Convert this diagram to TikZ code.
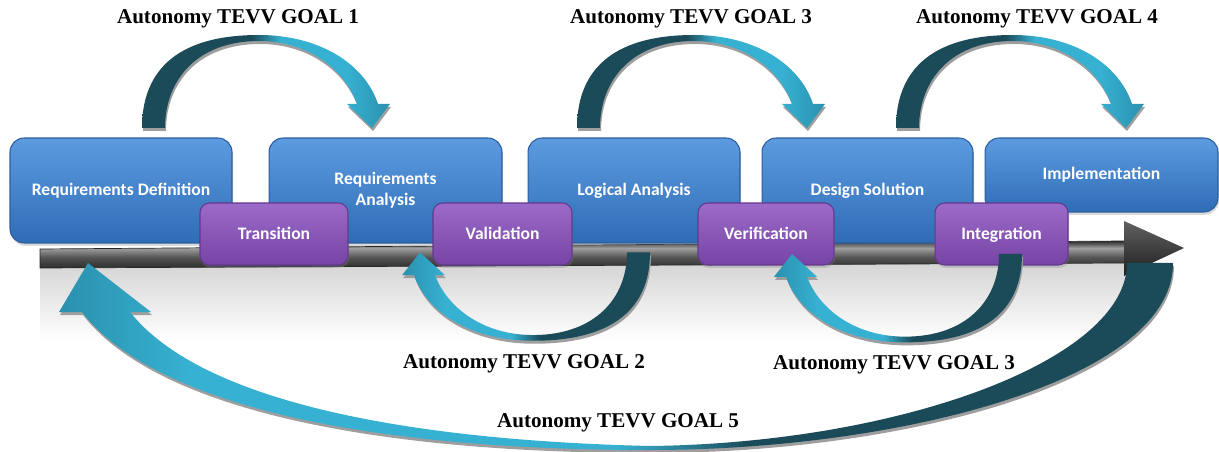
\documentclass[tikz,border=0pt]{standalone}
\usepackage{fontspec}
\setmainfont{Liberation Serif}
\newfontfamily\boxfont{Carlito}
\usetikzlibrary{shadows}
\definecolor{tdk}{HTML}{1B4A58}
\definecolor{tlt}{HTML}{37B1D2}
\definecolor{thd}{HTML}{2A91AE}
\definecolor{bluetop}{HTML}{5C9BE0}
\definecolor{bluebot}{HTML}{2F6CB6}
\definecolor{blueedge}{HTML}{2A5E9E}
\definecolor{purtop}{HTML}{9C6AC8}
\definecolor{purbot}{HTML}{7644A4}
\definecolor{puredge}{HTML}{64388E}
\definecolor{bardark}{HTML}{2E2E2E}
\definecolor{barmid}{HTML}{555555}
\definecolor{barlight}{HTML}{A0A0A0}
\pgfdeclarehorizontalshading{arrowLR}{100bp}{color(0bp)=(tdk); color(25bp)=(tdk); color(47bp)=(tdk); color(53bp)=(tlt); color(66bp)=(tlt); color(75bp)=(thd); color(100bp)=(thd)}
\pgfdeclarehorizontalshading{arrowRL}{100bp}{color(0bp)=(thd); color(25bp)=(thd); color(34bp)=(tlt); color(47bp)=(tlt); color(53bp)=(tdk); color(75bp)=(tdk); color(100bp)=(tdk)}
\pgfdeclarehorizontalshading{arrowbig}{100bp}{color(0bp)=(thd); color(25bp)=(thd); color(31bp)=(tlt); color(50bp)=(tlt); color(56bp)=(tdk); color(75bp)=(tdk); color(100bp)=(tdk)}
\pgfdeclareverticalshading{barshade}{100bp}{color(0bp)=(bardark); color(25bp)=(bardark); color(45bp)=(barmid); color(62bp)=(barlight); color(70bp)=(barmid); color(75bp)=(bardark); color(100bp)=(bardark)}
\newcommand\goalpath{(0,128) .. controls (0,75) and (30,35) .. (117,35) .. controls (175,35) and (222,62) .. (236,104) -- (248,104) -- (230,128) -- (205,104) -- (215,104) .. controls (202,68) and (165,41) .. (117,41) .. controls (55,41) and (23,80) .. (23,128) -- cycle}
\tikzset{
  bluebox/.style={rectangle, rounded corners=8pt, top color=bluetop, bottom color=bluebot,
    draw=blueedge, line width=0.6pt, text=white, align=center, inner sep=2pt,
    font=\boxfont\bfseries\fontsize{10}{12}\selectfont,
    drop shadow={opacity=0.3, shadow xshift=0.6pt, shadow yshift=-1.6pt}},
  purbox/.style={rectangle, rounded corners=5.5pt, top color=purtop, bottom color=purbot,
    draw=puredge, line width=0.6pt, text=white, align=center, inner sep=2pt,
    minimum height=1.24cm, text height=1.6ex, text depth=0.3ex,
    font=\boxfont\bfseries\fontsize{10}{12}\selectfont,
    drop shadow={opacity=0.3, shadow xshift=0.6pt, shadow yshift=-1.6pt}},
  goallabel/.style={font=\bfseries\fontsize{12}{14}\selectfont, inner sep=0pt},
  arrowshadow/.style={fill=black!38}
}
\begin{document}
\begin{tikzpicture}[x=0.02cm, y=-0.02cm]
\useasboundingbox (0,0) rectangle (1219,452);
% reflection under the bar
\shade[top color=black!17, bottom color=white] (40,262) rectangle (1125,340);
% timeline bar and arrow head
\shade[shading=barshade, draw=black!85, line width=0.4pt] (40,249) -- (1125,241) -- (1125,263) -- (40,268) -- cycle;
\shade[top color=black!62, bottom color=black!88] (1124,221) -- (1184,248) -- (1124,276) -- cycle;
% phase boxes
\node[bluebox, minimum width=4.44cm, minimum height=2.10cm] (reqdef) at (121,190.5) {Requirements Definition};
\node[bluebox, minimum width=4.66cm, minimum height=2.10cm] (reqana) at (385.5,190.5) {Requirements\\Analysis};
\node[bluebox, minimum width=4.24cm, minimum height=2.10cm] (logana) at (634,190.5) {Logical Analysis};
\node[bluebox, minimum width=4.22cm, minimum height=2.10cm] (design) at (867.5,190.5) {Design Solution};
\node[bluebox, minimum width=4.66cm, minimum height=1.48cm] (impl) at (1101.5,175) {Implementation};
% transition boxes
\node[purbox, minimum width=2.96cm] (trans) at (274,234) {Transition};
\node[purbox, minimum width=2.78cm] (valid) at (502.5,234) {Validation};
\node[purbox, minimum width=2.72cm] (verif) at (766,234) {Verification};
\node[purbox, minimum width=2.66cm] (integ) at (1001.5,234) {Integration};
% top goal arrows
\foreach \t in {142,577,896}{
  \begin{scope}[shift={(\t+1,3)}]
    \fill[arrowshadow] \goalpath;
  \end{scope}
  \begin{scope}[shift={(\t,0)}]
    \shade[shading=arrowLR] \goalpath;
  \end{scope}
}
% bottom goal arrows
\foreach \sx/\sy in {650/374,1022/375.6}{
  \begin{scope}[shift={(\sx+1,\sy+3)}, rotate=180, yscale=0.95]
    \fill[arrowshadow] \goalpath;
  \end{scope}
  \begin{scope}[shift={(\sx,\sy)}, rotate=180, yscale=0.95]
    \shade[shading=arrowRL] \goalpath;
  \end{scope}
}
% goal 5 big arrow
\begin{scope}[shift={(1,3)}]
\fill[arrowshadow] (1127,263) -- (1173,263) .. controls (1173,380) and (900,450) .. (650,450) .. controls (350,450) and (150,400) .. (82,312) -- (59,312) -- (88,263) -- (151,312) -- (130,312) .. controls (200,400) and (400,440) .. (650,446) .. controls (900,443) and (1127,360) .. (1127,263) -- cycle;
\end{scope}
\shade[shading=arrowbig] (1127,263) -- (1173,263) .. controls (1173,380) and (900,450) .. (650,450) .. controls (350,450) and (150,400) .. (82,312) -- (59,312) -- (88,263) -- (151,312) -- (130,312) .. controls (200,400) and (400,440) .. (650,446) .. controls (900,443) and (1127,360) .. (1127,263) -- cycle;
% labels
\node[goallabel] (g1) at (238,19) {Autonomy TEVV GOAL 1};
\node[goallabel] (g3a) at (691,19) {Autonomy TEVV GOAL 3};
\node[goallabel] (g4) at (1037,19) {Autonomy TEVV GOAL 4};
\node[goallabel] (g2) at (524,364) {Autonomy TEVV GOAL 2};
\node[goallabel] (g3b) at (894,365) {Autonomy TEVV GOAL 3};
\node[goallabel] (g5) at (618,423) {Autonomy TEVV GOAL 5};
\end{tikzpicture}
\end{document}
